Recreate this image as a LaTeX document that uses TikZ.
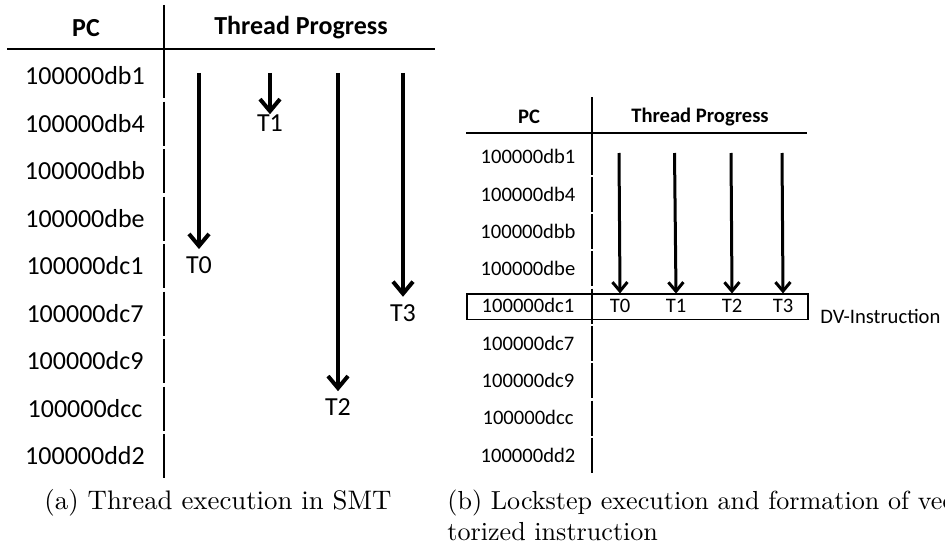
\documentclass[tikz,border=0pt]{standalone}
\usepackage{fontspec}
\setsansfont{Carlito}
\newfontfamily\captfont{lmroman10-regular}[Extension=.otf]
\usetikzlibrary{arrows.meta}

\tikzset{
  pcbig/.style={font=\sffamily\fontsize{13}{15}\selectfont, inner sep=0pt},
  pcsmall/.style={font=\sffamily\fontsize{10.3}{12}\selectfont, inner sep=0pt},
  headbig/.style={font=\sffamily\bfseries\fontsize{13}{15}\selectfont},
  headsmall/.style={font=\sffamily\bfseries\fontsize{10.3}{12}\selectfont},
  tidbig/.style={font=\sffamily\fontsize{13}{15}\selectfont, inner sep=3.5pt},
  tidsmall/.style={font=\sffamily\fontsize{10.3}{12}\selectfont, inner sep=2.7pt},
  progbig/.style={line width=2pt, -{Straight Barb[length=6pt,width=10pt]}},
  progsmall/.style={line width=1.5pt, -{Straight Barb[length=4.5pt,width=7.5pt]}},
  capt/.style={font=\captfont\fontsize{13.4}{16.5}\selectfont, inner sep=0pt},
  captb/.style={font=\captfont\fontsize{13.05}{16.5}\selectfont, inner sep=0pt}
}

\begin{document}
\begin{tikzpicture}[x=0.5pt,y=-0.5pt]
  \useasboundingbox (0,0) rectangle (945,551);

  % ---- (a) left table
  \node[headbig] (pca) at (86,28) {PC};
  \node[headbig] (tpa) at (301,28) {Thread Progress};
  \draw[line width=1.2pt] (7,49) -- (435,49); % header rule
  \draw[line width=1pt] (164,5) -- (164,98);
  \foreach \pc [count=\i from 0] in {db1,db4,dbb,dbe,dc1,dc7,dc9,dcc,dd2} {
    \node[pcbig] (la\i) at (85,76+47.5*\i) {100000\pc};
    \ifnum\i>0
      \draw[line width=1pt] (164,54+47.5*\i) -- (164,98+47.5*\i);
    \fi
  }

  % threads, each stops at its own PC
  \node[tidbig] (t0) at (199,265) {T0};
  \node[tidbig] (t1) at (270,123) {T1};
  \node[tidbig] (t2) at (338,407) {T2};
  \node[tidbig] (t3) at (403,312.7) {T3};
  \coordinate (a0) at (199,73);
  \coordinate (a1) at (270,73);
  \coordinate (a2) at (338,73);
  \coordinate (a3) at (403,73);
  \draw[progbig] (a0) -- (t0.north);
  \draw[progbig, shorten >=-3.5pt] (a1) -- (t1.north);
  \draw[progbig] (a2) -- (t2.north);
  \draw[progbig] (a3) -- (t3.north);

  % ---- (b) right table
  \node[headsmall] (pcb) at (529,117) {PC};
  \node[headsmall] (tpb) at (700,117) {Thread Progress};
  \draw[line width=1pt] (466,133) -- (807,133); % header rule
  \draw[line width=0.8pt] (592,97) -- (592,174.5);
  \foreach \pc [count=\i from 0] in {db1,db4,dbb,dbe,dc1,dc7,dc9,dcc,dd2} {
    \node[pcsmall] (rb\i) at (528,156.7+37.3*\i) {100000\pc};
    \ifnum\i>0
      \draw[line width=0.8pt] (592,139.5+37.3*\i) -- (592,174.5+37.3*\i);
    \fi
  }
  \draw[line width=0.8pt] (466.7,294) rectangle (807.7,319.3); % vectorized row

  \node[tidsmall] (u0) at (620,306) {T0};
  \node[tidsmall] (u1) at (676,306) {T1};
  \node[tidsmall] (u2) at (732,306) {T2};
  \node[tidsmall] (u3) at (783,306) {T3};
  \foreach \x [count=\i from 0] in {619,674.5,731,782} {
    \coordinate (b\i) at (\x,153);
    \draw[progsmall] (b\i) -- (u\i.north);
  }
  \node[pcsmall, anchor=west] (dv) at (820,316) {DV-Instruction};

  % ---- captions
  \node[capt, anchor=base] (capa) at (218,509) {(a) Thread execution in SMT};
  \node[captb, anchor=base west] (capb) at (447,509) {(b) Lockstep execution and formation of vec-};
  \node[captb, anchor=base west] (capc) at (447,540.5) {torized instruction};
\end{tikzpicture}
\end{document}
